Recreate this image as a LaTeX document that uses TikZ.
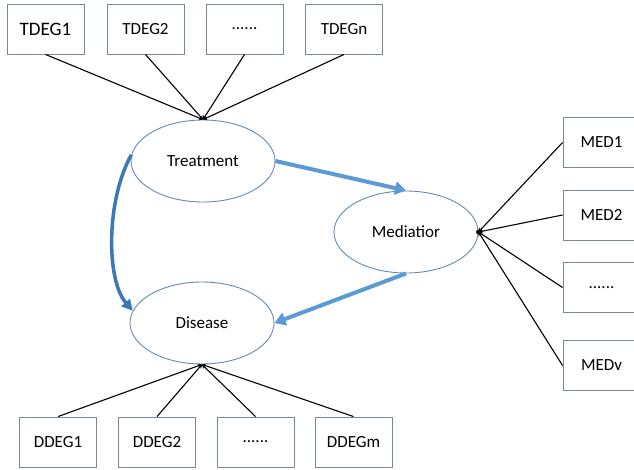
\documentclass[tikz,border=0pt]{standalone}
\usepackage{fontspec}
\setmainfont{Carlito}
\usepackage{tikz}
\usetikzlibrary{arrows.meta,shapes.geometric}
\definecolor{boxline}{HTML}{7A8896}
\definecolor{ovalline}{HTML}{6689AE}
\definecolor{lightarrow}{HTML}{5B9BD5}
\definecolor{darkarrow}{HTML}{3C78B8}

\begin{document}
\begin{tikzpicture}[x=1pt,y=-1pt,
  gene/.style={draw=boxline,line width=0.9pt,minimum width=77pt,minimum height=50pt,inner sep=0pt,font=\fontsize{17}{20}\selectfont},
  oval/.style={ellipse,draw=ovalline,line width=0.9pt,minimum width=144pt,minimum height=82pt,inner sep=0pt,font=\fontsize{17}{20}\selectfont},
  link/.style={line width=1.1pt,-{Stealth[length=4pt,width=4.5pt]}},
  effect/.style={line width=4pt,lightarrow,-{Triangle[length=11pt,width=13pt]}}]
\useasboundingbox (0,0) rectangle (634,469);

% outcomes
\node[oval] (treat) at (203,161) {Treatment};
\node[oval] (med) at (406,232) {Mediatior};
\node[oval] (dis) at (202,323) {Disease};

% treatment genes
\node[gene,font=\fontsize{19}{22}\selectfont] (tdeg1) at (45.5,29) {TDEG1};
\node[gene] (tdeg2) at (145.5,29) {TDEG2};
\node[gene] (tdegd) at (244.5,29) {......};
\node[gene] (tdegn) at (344,29) {TDEGn};

% mediator genes
\node[gene] (med1) at (601.5,142.5) {MED1};
\node[gene] (med2) at (601.5,215) {MED2};
\node[gene] (medd) at (601.5,287.5) {......};
\node[gene] (medv) at (601.5,365.5) {MEDv};

% disease genes
\node[gene] (ddeg1) at (58,442) {DDEG1};
\node[gene] (ddeg2) at (157,442) {DDEG2};
\node[gene] (ddegd) at (255.5,442) {......};
\node[gene] (ddegm) at (353.5,442) {DDEGm};

\draw[link] (tdeg1.south) -- (treat.north);
\draw[link] (tdeg2.south) -- (treat.north);
\draw[link] (tdegd.south) -- (treat.north);
\draw[link] (tdegn.south) -- (treat.north);

\draw[link] (med1.west) -- (med.east);
\draw[link] (med2.west) -- (med.east);
\draw[link] (medd.west) -- (med.east);
\draw[link] (medv.west) -- (med.east);
\fill (med.east) circle (2.4pt);

\draw[link] (ddeg1.north) -- (dis.south);
\draw[link] (ddeg2.north) -- (dis.south);
\draw[link] (ddegd.north) -- (dis.south);
\draw[link] (ddegm.north) -- (dis.south);

% effects
\draw[effect] (treat.east) -- (med.north);
\draw[effect] (med.south) -- (dis.east);
\draw[effect,darkarrow,line width=3.5pt,-{Triangle[length=11pt,width=11pt]}] (treat.175) .. controls (106,200) and (106,280) .. (dis.170);
\end{tikzpicture}
\end{document}
